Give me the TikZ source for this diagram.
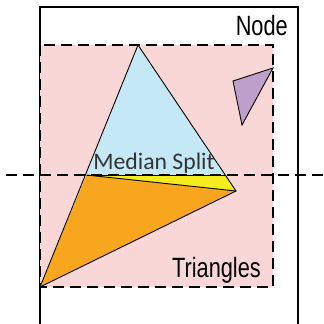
\documentclass[tikz,border=0pt]{standalone}
\usepackage{fontspec}
\newfontfamily\labfont[FakeStretch=0.78]{Liberation Sans}
\newfontfamily\medfont{Carlito}
\definecolor{pinkbg}{HTML}{FAD7D7}
\definecolor{bluetri}{HTML}{C5E8F6}
\definecolor{yellowtri}{HTML}{F5EC1E}
\definecolor{orangetri}{HTML}{F7A61E}
\definecolor{purpletri}{HTML}{BFA0CB}
\tikzset{
  frame/.style={line width=1.5bp, black},
  dashline/.style={line width=1.5bp, black, dash pattern=on 11bp off 6bp},
  tri/.style={line width=0.9bp, black, line join=miter},
  biglabel/.style={inner sep=0pt, font=\labfont\fontsize{28}{28}\selectfont},
  medlabel/.style={inner sep=0pt, font=\medfont\fontsize{23.8}{24}\selectfont, text=black!80}
}
\begin{document}
\begin{tikzpicture}[x=1bp,y=-1bp]
\useasboundingbox (0,0) rectangle (324,324);
% outer node frame
\coordinate (fbl) at (40,330);
\coordinate (ftl) at (40,7);
\coordinate (ftr) at (298,7);
\coordinate (fbr) at (298,330);
\draw[frame] (fbl) -- (ftl) -- (ftr) -- (fbr);
% triangles box
\coordinate (r1) at (40,45);
\coordinate (r2) at (273,287);
\fill[pinkbg] (r1) rectangle (r2);
\draw[dashline] (r1) rectangle (r2);
% big triangle vertices
\coordinate (A) at (138,45);
\coordinate (B) at (40,287);
\coordinate (C) at (236,191);
\coordinate (L) at (86.5,175);
\coordinate (R) at (225.5,175);
\fill[bluetri] (A) -- (L) -- (R) -- cycle;
\fill[yellowtri] (L) -- (R) -- (C) -- cycle;
\fill[orangetri] (L) -- (C) -- (B) -- cycle;
\draw[tri] (A) -- (B) -- (C) -- cycle;
\draw[tri] (L) -- (C);
\draw[tri] (L) -- (R);
% purple triangle
\coordinate (P1) at (233,81);
\coordinate (P2) at (273,68);
\coordinate (P3) at (242,125);
\filldraw[tri, fill=purpletri] (P1) -- (P2) -- (P3) -- cycle;
% median split line
\coordinate (h1) at (6,175);
\coordinate (h2) at (330,175);
\draw[dashline] (h1) -- (h2);
% labels
\node[biglabel, anchor=base east] (nodelab) at (288,35) {Node};
\node[biglabel, anchor=base east] (trilab) at (261,277) {Triangles};
\node[medlabel, anchor=base] (medlab) at (154,169) {Median Split};
\end{tikzpicture}
\end{document}
